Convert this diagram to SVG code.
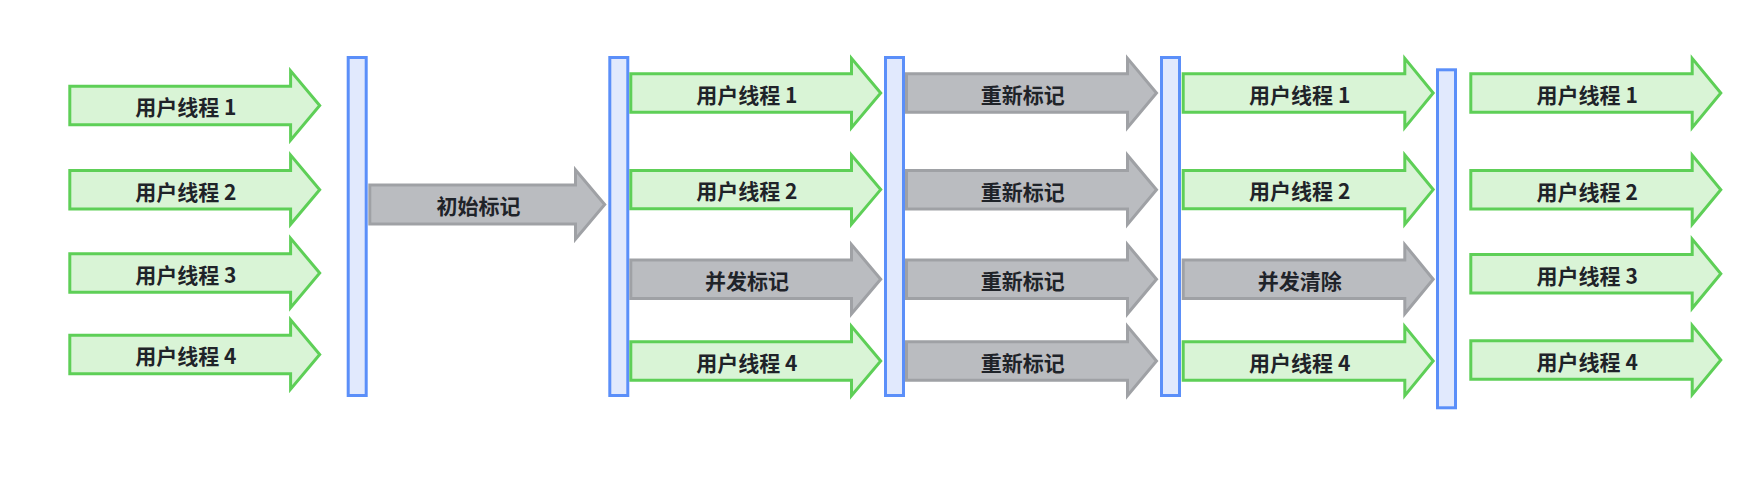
<svg xmlns="http://www.w3.org/2000/svg" width="1761" height="484" viewBox="0 0 1761 484">
<style>
.g{fill:#d9f4d6;stroke:#5ecf57;stroke-width:3}
.y{fill:#babcc0;stroke:#9fa1a5;stroke-width:3}
.b{fill:#e1e9fd;stroke:#5b8ff9;stroke-width:3}
text{font-family:"Noto Sans CJK SC","Noto Sans",sans-serif;font-size:21px;font-weight:700;fill:#1f2329;text-anchor:middle}
</style>
<rect width="1761" height="484" fill="#ffffff"/>
<g id="bars">
<g id="bar1"><rect class="b" x="348.2" y="57.5" width="18" height="338"/></g>
<g id="bar2"><rect class="b" x="609.8" y="57.5" width="18" height="338"/></g>
<g id="bar3"><rect class="b" x="885.5" y="57.5" width="18" height="338"/></g>
<g id="bar4"><rect class="b" x="1161.5" y="57.5" width="18" height="338"/></g>
<g id="bar5"><rect class="b" x="1437.5" y="69.8" width="18" height="338"/></g>
</g>
<g id="col1">
<g id="c1a1"><polygon class="g" points="69.8,86.3 290.6,86.3 290.6,70.9 319.7,105.5 290.6,140.1 290.6,124.7 69.8,124.7"/><text x="185.9" y="115.3">用户线程 1</text></g>
<g id="c1a2"><polygon class="g" points="69.8,170.5 290.6,170.5 290.6,155.1 319.7,189.7 290.6,224.3 290.6,208.9 69.8,208.9"/><text x="185.9" y="199.5">用户线程 2</text></g>
<g id="c1a3"><polygon class="g" points="69.8,253.8 290.6,253.8 290.6,238.4 319.7,273 290.6,307.6 290.6,292.2 69.8,292.2"/><text x="185.9" y="282.8">用户线程 3</text></g>
<g id="c1a4"><polygon class="g" points="69.8,335.3 290.6,335.3 290.6,319.9 319.7,354.5 290.6,389.1 290.6,373.7 69.8,373.7"/><text x="185.9" y="364.3">用户线程 4</text></g>
</g>
<g id="initial">
<polygon class="y" points="369.8,185.1 575.5,185.1 575.5,169.9 604.7,204.5 575.5,239.1 575.5,223.9 369.8,223.9"/><text x="478.4" y="214.3">初始标记</text>
</g>
<g id="col2">
<g id="c2a1"><polygon class="g" points="630.8,73.8 851.5,73.8 851.5,58.4 880.7,93 851.5,127.6 851.5,112.2 630.8,112.2"/><text x="746.9" y="102.8">用户线程 1</text></g>
<g id="c2a2"><polygon class="g" points="630.8,170.4 851.5,170.4 851.5,155 880.7,189.6 851.5,224.2 851.5,208.8 630.8,208.8"/><text x="746.9" y="199.4">用户线程 2</text></g>
<g id="c2a3"><polygon class="y" points="630.8,260 851.5,260 851.5,244.6 880.7,279.2 851.5,313.8 851.5,298.4 630.8,298.4"/><text x="746.9" y="289">并发标记</text></g>
<g id="c2a4"><polygon class="g" points="630.8,341.8 851.5,341.8 851.5,326.4 880.7,361 851.5,395.6 851.5,380.2 630.8,380.2"/><text x="746.9" y="370.8">用户线程 4</text></g>
</g>
<g id="col3">
<g id="c3a1"><polygon class="y" points="906.5,73.8 1127.5,73.8 1127.5,58.4 1156.5,93 1127.5,127.6 1127.5,112.2 906.5,112.2"/><text x="1022.7" y="102.8">重新标记</text></g>
<g id="c3a2"><polygon class="y" points="906.5,170.6 1127.5,170.6 1127.5,155.2 1156.5,189.8 1127.5,224.4 1127.5,209 906.5,209"/><text x="1022.7" y="199.6">重新标记</text></g>
<g id="c3a3"><polygon class="y" points="906.5,260 1127.5,260 1127.5,244.6 1156.5,279.2 1127.5,313.8 1127.5,298.4 906.5,298.4"/><text x="1022.7" y="289">重新标记</text></g>
<g id="c3a4"><polygon class="y" points="906.5,341.8 1127.5,341.8 1127.5,326.4 1156.5,361 1127.5,395.6 1127.5,380.2 906.5,380.2"/><text x="1022.7" y="370.8">重新标记</text></g>
</g>
<g id="col4">
<g id="c4a1"><polygon class="g" points="1183.2,73.8 1404.8,73.8 1404.8,58.4 1433.2,93 1404.8,127.6 1404.8,112.2 1183.2,112.2"/><text x="1299.7" y="102.8">用户线程 1</text></g>
<g id="c4a2"><polygon class="g" points="1183.2,170.4 1404.8,170.4 1404.8,155 1433.2,189.6 1404.8,224.2 1404.8,208.8 1183.2,208.8"/><text x="1299.7" y="199.4">用户线程 2</text></g>
<g id="c4a3"><polygon class="y" points="1183.2,260 1404.8,260 1404.8,244.6 1433.2,279.2 1404.8,313.8 1404.8,298.4 1183.2,298.4"/><text x="1299.7" y="289">并发清除</text></g>
<g id="c4a4"><polygon class="g" points="1183.2,341.8 1404.8,341.8 1404.8,326.4 1433.2,361 1404.8,395.6 1404.8,380.2 1183.2,380.2"/><text x="1299.7" y="370.8">用户线程 4</text></g>
</g>
<g id="col5">
<g id="c5a1"><polygon class="g" points="1470.8,73.8 1692.2,73.8 1692.2,58.4 1720.8,93 1692.2,127.6 1692.2,112.2 1470.8,112.2"/><text x="1587.2" y="102.8">用户线程 1</text></g>
<g id="c5a2"><polygon class="g" points="1470.8,170.5 1692.2,170.5 1692.2,155.1 1720.8,189.7 1692.2,224.3 1692.2,208.9 1470.8,208.9"/><text x="1587.2" y="199.5">用户线程 2</text></g>
<g id="c5a3"><polygon class="g" points="1470.8,254.5 1692.2,254.5 1692.2,239.1 1720.8,273.7 1692.2,308.3 1692.2,292.9 1470.8,292.9"/><text x="1587.2" y="283.5">用户线程 3</text></g>
<g id="c5a4"><polygon class="g" points="1470.8,340.8 1692.2,340.8 1692.2,325.4 1720.8,360 1692.2,394.6 1692.2,379.2 1470.8,379.2"/><text x="1587.2" y="369.8">用户线程 4</text></g>
</g>
<g id="connectors"/>
</svg>
